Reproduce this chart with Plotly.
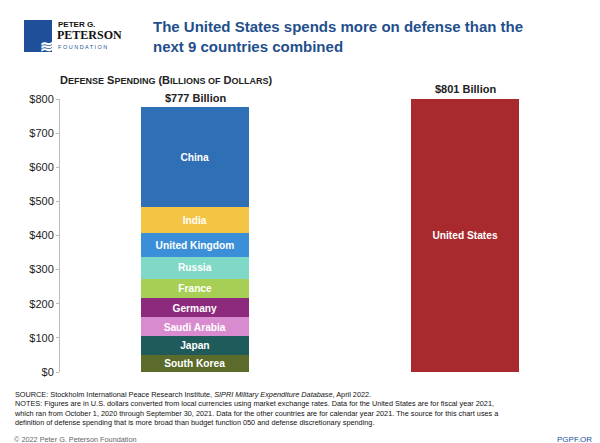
import plotly.graph_objects as go

countries = ["South Korea", "Japan", "Saudi Arabia", "Germany", "France", "Russia", "United Kingdom", "India", "China"]
values = [50.2, 54.1, 55.6, 56.0, 56.6, 65.9, 68.4, 76.6, 293.4]
colors = ["#5b6b2c", "#1f5b5b", "#d98bcf", "#8d2a7d", "#a8cf55", "#7fd9c6", "#3b8fd9", "#f4c444", "#2f6fb5"]
us_value = 801
cats = ["Next 9", "US"]
tickvals = list(range(0, 801, 100))
ticktext = [f"${v}" for v in tickvals]

fig = go.Figure()
for c, v, col in zip(countries, values, colors):
    fig.add_trace(go.Bar(x=[cats[0]], y=[v], marker=dict(color=col, line=dict(width=0)),
                         text=[f"<b>{c}</b>"], textposition="inside", insidetextanchor="middle",
                         textfont=dict(color="white", size=11, family="Liberation Sans"), width=0.4))
fig.add_trace(go.Bar(x=[cats[1]], y=[us_value], marker=dict(color="#a82a2e", line=dict(width=0)),
                     text=["<b>United States</b>"], textposition="inside", insidetextanchor="middle",
                     textfont=dict(color="white", size=11, family="Liberation Sans"), width=0.4))
total = round(sum(values))
fig.add_annotation(x=cats[0], y=total, text=f"<b>${total} Billion</b>", showarrow=False, yanchor="bottom", yshift=1, font=dict(size=11, color="#222"))
fig.add_annotation(x=cats[1], y=800, text=f"<b>${us_value} Billion</b>", showarrow=False, yanchor="bottom", yshift=2, font=dict(size=11, color="#222"))

fig.update_layout(
    barmode="stack", showlegend=False, width=600, height=443, plot_bgcolor="white", paper_bgcolor="white",
    margin=dict(l=52, r=8, t=91, b=79), uniformtext=dict(minsize=8, mode="show"),
    font=dict(family="Liberation Sans", color="#222"),
    xaxis=dict(range=[-0.5, 1.5], showticklabels=False, showline=False, ticks=""),
    yaxis=dict(range=[0, 800], tickvals=tickvals, ticktext=ticktext, showgrid=False,
               showline=True, linecolor="#bbb", ticks="outside", ticklen=3, tickcolor="#bbb",
               tickfont=dict(size=11, color="#222")),
)
def px(x): return (x - 52) / 540
def py(y): return (364 - y) / 273
fig.add_shape(type="rect", xref="paper", yref="paper", x0=px(16), x1=px(44), y0=py(44), y1=py(12), fillcolor="#1f4f99", line_width=0)
fig.add_annotation(xref="paper", yref="paper", x=px(30), y=py(28), text="<b>≋</b>", showarrow=False, font=dict(size=16, color="white"))
fig.add_annotation(xref="paper", yref="paper", x=px(48), y=py(10), xanchor="left", yanchor="top", align="left",
                   text="<b>PETER G.</b>", showarrow=False, font=dict(size=8, color="#111"))
fig.add_annotation(xref="paper", yref="paper", x=px(47), y=py(18), xanchor="left", yanchor="top", align="left",
                   text="<b>PETERSON</b>", showarrow=False, font=dict(size=12, color="#111", family="Liberation Sans Narrow"))
fig.add_annotation(xref="paper", yref="paper", x=px(48), y=py(34), xanchor="left", yanchor="top", align="left",
                   text="F O U N D A T I O N", showarrow=False, font=dict(size=5.5, color="#1f4f99"))
fig.add_annotation(xref="paper", yref="paper", x=px(143), y=py(8), xanchor="left", yanchor="top", align="left",
                   text="<b>The United States spends more on defense than the<br>next 9 countries combined</b>",
                   showarrow=False, font=dict(size=15, color="#1f4f8c"))
fig.add_annotation(xref="paper", yref="paper", x=px(50), y=py(64), xanchor="left", yanchor="top",
                   text="<b>D<span style='font-size:9px'>EFENSE</span> S<span style='font-size:9px'>PENDING</span> (B<span style='font-size:9px'>ILLIONS OF</span> D<span style='font-size:9px'>OLLARS</span>)</b>",
                   showarrow=False, font=dict(size=11, color="#222"))
fig.add_annotation(xref="paper", yref="paper", x=px(4), y=py(380), xanchor="left", yanchor="top", align="left",
                   text="SOURCE: Stockholm International Peace Research Institute, <i>SIPRI Military Expenditure Database</i>, April 2022.<br>"
                        "NOTES: Figures are in U.S. dollars converted from local currencies using market exchange rates. Data for the United States are for fiscal year 2021,<br>"
                        "which ran from October 1, 2020 through September 30, 2021. Data for the other countries are for calendar year 2021. The source for this chart uses a<br>"
                        "definition of defense spending that is more broad than budget function 050 and defense discretionary spending.",
                   showarrow=False, font=dict(size=7.3, color="#111"))
fig.add_annotation(xref="paper", yref="paper", x=px(4), y=py(425), xanchor="left", yanchor="top",
                   text="© 2022 Peter G. Peterson Foundation", showarrow=False, font=dict(size=7.3, color="#666"))
fig.add_annotation(xref="paper", yref="paper", x=px(592), y=py(425), xanchor="right", yanchor="top",
                   text="PGPF.ORG", showarrow=False, font=dict(size=8, color="#1f4f99"))
fig.write_html("out.html")
